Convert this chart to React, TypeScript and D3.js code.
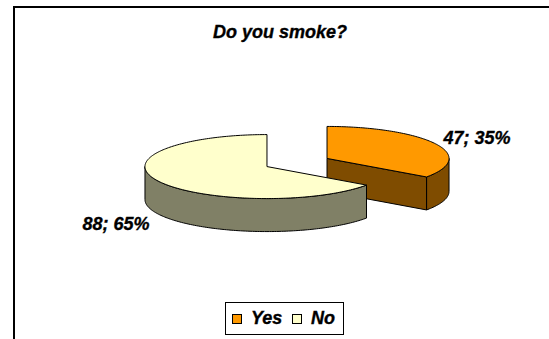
import React from 'react';
import * as d3 from 'd3';

const title = 'Do you smoke?';
const categories = ['Yes', 'No'];
const values = [47, 88];
const topColors = ['#FF9900', '#FFFFCC'];
const sideColors = ['#7F4C00', '#808066'];

const W = 549;
const H = 339;
const cx = 297;
const cy = 162.5;
const rx = 122;
const ry = 32;
const depth = 33;
const explode = 33.8;
const FONT = '"Liberation Sans", Arial, sans-serif';

type Pt = [number, number];

const textStyle = {
  fontFamily: FONT,
  fontSize: 18,
  fontWeight: 'bold' as const,
  fontStyle: 'italic' as const,
  stroke: '#000',
  strokeWidth: 0.35,
};

export default function App() {
  const total = d3.sum(values);
  const arcs = d3.pie<number>().sort(null).value((d) => d)(values);

  const slices = arcs.map((a, i) => {
    const mid = (a.startAngle + a.endAngle) / 2;
    const ox = cx + explode * Math.sin(mid);
    const oy = cy - explode * Math.cos(mid) * (ry / rx);
    const pt = (t: number, dz = 0): Pt => [ox + rx * Math.sin(t), oy - ry * Math.cos(t) + dz];
    const sample = (t0: number, t1: number, dz = 0): Pt[] => {
      const n = Math.max(2, Math.ceil(Math.abs(t1 - t0) / 0.02));
      return d3.range(n + 1).map((k) => pt(t0 + ((t1 - t0) * k) / n, dz));
    };
    const line = (pts: Pt[]) => 'M' + pts.map((p) => p[0].toFixed(2) + ',' + p[1].toFixed(2)).join('L') + 'Z';

    const top = line([[ox, oy], ...sample(a.startAngle, a.endAngle)]);
    const sides: string[] = [];
    const w0 = Math.max(a.startAngle, Math.PI / 2);
    const w1 = Math.min(a.endAngle, (3 * Math.PI) / 2);
    if (w1 > w0) {
      sides.push(line([...sample(w0, w1), ...sample(w1, w0, depth)]));
    }
    if (Math.sin(a.startAngle) < -1e-6) {
      const p = pt(a.startAngle);
      sides.push(line([[ox, oy], p, [p[0], p[1] + depth], [ox, oy + depth]]));
    }
    if (Math.sin(a.endAngle) > 1e-6) {
      const p = pt(a.endAngle);
      sides.push(line([[ox, oy], p, [p[0], p[1] + depth], [ox, oy + depth]]));
    }
    const lp = pt(mid);
    const right = Math.sin(mid) > 0;
    const pct = Math.round((values[i] / total) * 100);
    return { i, oy, top, sides, lp, right, label: `${values[i]}; ${pct}%` };
  });

  const order = [...slices].sort((a, b) => a.oy - b.oy);

  return (
    <svg width={W} height={H} style={{ position: 'absolute', left: 0, top: 0, background: '#fff' }}>
      <rect x={14} y={7} width={560} height={360} fill="#fff" stroke="#000" strokeWidth={2} />
      <text x={280} y={38} textAnchor="middle" style={textStyle}>
        {title}
      </text>
      {order.map((s) => (
        <g key={s.i}>
          {s.sides.map((d, k) => (
            <path key={k} d={d} fill={sideColors[s.i]} stroke="#000" strokeWidth={1} strokeLinejoin="round" />
          ))}
          <path d={s.top} fill={topColors[s.i]} stroke="#000" strokeWidth={1} strokeLinejoin="round" />
        </g>
      ))}
      {slices.map((s) => (
        <text
          key={'l' + s.i}
          x={s.right ? s.lp[0] + 8 : s.lp[0] - 9}
          y={s.right ? s.lp[1] : s.lp[1] + depth + 16}
          textAnchor={s.right ? 'start' : 'end'}
          style={textStyle}
        >
          {s.label}
        </text>
      ))}
      <g>
        <rect x={225.5} y={302.5} width={118} height={32} fill="#fff" stroke="#000" strokeWidth={1} />
        {categories.map((c, i) => {
          const x0 = i === 0 ? 232 : 292;
          return (
            <g key={c}>
              <rect x={x0 + 0.5} y={314.5} width={9} height={9} fill={topColors[i]} stroke="#000" strokeWidth={1} />
              <text x={x0 + 19} y={324} style={textStyle}>
                {c}
              </text>
            </g>
          );
        })}
      </g>
    </svg>
  );
}
